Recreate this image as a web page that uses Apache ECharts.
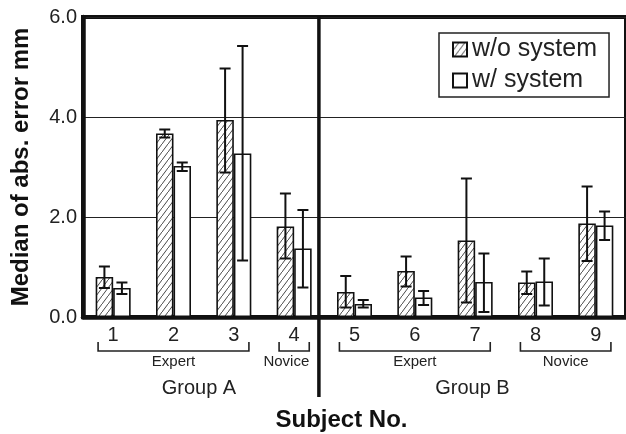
<!DOCTYPE html>
<html><head><meta charset="utf-8">
<script src="https://cdn.jsdelivr.net/npm/echarts@6/dist/echarts.min.js"></script>
<style>html,body{margin:0;padding:0;background:#fff}#c{width:626px;height:434px}</style>
</head><body><div id="c"></div>
<script>
const subjects = ['1','2','3','4','5','6','7','8','9'];
const woSystem = [0.80, 3.67, 3.94, 1.81, 0.50, 0.92, 1.53, 0.69, 1.87];
const woLow    = [0.58, 3.59, 2.89, 1.17, 0.19, 0.61, 0.29, 0.46, 1.12];
const woHigh   = [1.01, 3.75, 4.97, 2.47, 0.82, 1.21, 2.77, 0.91, 2.61];
const wSystem  = [0.58, 3.02, 3.27, 1.37, 0.26, 0.39, 0.70, 0.71, 1.83];
const wLow     = [0.46, 2.92, 1.13, 0.59, 0.19, 0.24, 0.10, 0.23, 1.54];
const wHigh    = [0.69, 3.09, 5.42, 2.14, 0.34, 0.52, 1.27, 1.17, 2.11];
const yMin = 0, yMax = 6, yStep = 2;
const bracketLabels = ['Expert', 'Novice', 'Expert', 'Novice'];
const bracketFrom = [0, 3, 4, 7];
const bracketTo = [2, 3, 6, 8];
const groupLabels = ['Group A', 'Group B'];
const seriesNames = ['w/o system', 'w/ system'];
const xTitle = 'Subject No.';
const yTitle = 'Median of abs. error mm';

const FONT = '"Liberation Sans", Arial, sans-serif';
const INK = '#111';
const BAR_W = 17.5;

// hatch pattern
const pc = document.createElement('canvas');
pc.width = 6; pc.height = 8;
const g = pc.getContext('2d');
g.fillStyle = '#fff'; g.fillRect(0, 0, 6, 8);
g.strokeStyle = '#333'; g.lineWidth = 0.9;
g.beginPath(); g.moveTo(-1, 8 + 8 / 6); g.lineTo(7, -8 / 6); g.stroke();
const hatch = { image: pc, repeat: 'repeat' };

function errSeries(low, high, side) {
  return {
    type: 'custom', silent: true, z: 5,
    encode: { x: 0, y: [1, 2] },
    data: low.map((l, i) => [i, l, high[i]]),
    renderItem(params, api) {
      const i = api.value(0);
      const p1 = api.coord([i, api.value(1)]);
      const p2 = api.coord([i, api.value(2)]);
      const x = p1[0] + side * BAR_W / 2;
      const c = 5.5;
      const st = { stroke: INK, lineWidth: 2 };
      return { type: 'group', children: [
        { type: 'line', shape: { x1: x, y1: p1[1], x2: x, y2: p2[1] }, style: st },
        { type: 'line', shape: { x1: x - c, y1: p1[1], x2: x + c, y2: p1[1] }, style: st },
        { type: 'line', shape: { x1: x - c, y1: p2[1], x2: x + c, y2: p2[1] }, style: st }
      ]};
    }
  };
}

const chart = echarts.init(document.getElementById('c'), null, { renderer: 'canvas' });
chart.setOption({
  backgroundColor: '#fff',
  animation: false,
  textStyle: { fontFamily: FONT },
  grid: { left: 83, right: 0, top: 17, bottom: 117, show: true, borderColor: INK, borderWidth: 4, backgroundColor: 'transparent' },
  legend: {
    data: [{ name: seriesNames[0], icon: 'rect' }, { name: seriesNames[1], icon: 'rect' }],
    orient: 'vertical', left: 439, top: 33, padding: [4, 12, 4, 13],
    itemGap: 6, itemWidth: 14, itemHeight: 14,
    borderColor: '#222', borderWidth: 1.5, backgroundColor: '#fff',
    textStyle: { fontSize: 25, color: '#222', fontFamily: FONT }
  },
  xAxis: {
    type: 'category', data: subjects,
    axisLine: { lineStyle: { color: INK, width: 4.5 } },
    axisTick: { show: false },
    axisLabel: { fontSize: 20, color: '#222', margin: 8, fontFamily: FONT },
    splitLine: { show: false }
  },
  yAxis: {
    type: 'value', min: yMin, max: yMax, interval: yStep,
    axisLine: { show: true, lineStyle: { color: INK, width: 4.5 } },
    axisTick: { show: false },
    axisLabel: { fontSize: 20, color: '#222', margin: 6, fontFamily: FONT, formatter: v => v.toFixed(1) },
    splitLine: { show: true, lineStyle: { color: '#222', width: 1.2 } },
    name: yTitle, nameLocation: 'middle', nameGap: 50, nameRotate: 90,
    nameTextStyle: { fontSize: 24, fontWeight: 'bold', color: '#111', fontFamily: FONT }
  },
  series: [
    { name: seriesNames[0], type: 'bar', data: woSystem, barWidth: BAR_W, barGap: '0%',
      itemStyle: { color: hatch, borderColor: INK, borderWidth: 1.6 } },
    { name: seriesNames[1], type: 'bar', data: wSystem, barWidth: BAR_W, barGap: '0%',
      itemStyle: { color: '#fff', borderColor: INK, borderWidth: 1.6 } },
    errSeries(woLow, woHigh, -1),
    errSeries(wLow, wHigh, 1)
  ]
});

// annotations computed from axis scales
const px = i => chart.convertToPixel({ xAxisIndex: 0 }, i);
const py = v => chart.convertToPixel({ yAxisIndex: 0 }, v);
const base = py(0), topY = py(yMax);
const band = px(1) - px(0);
const half = band * 0.25;
const divX = px(3) + 0.41 * (px(4) - px(3));
const els = [];
const bStyle = { stroke: '#222', lineWidth: 1.6, fill: null };
for (let k = 0; k < bracketLabels.length; k++) {
  const x1 = px(bracketFrom[k]) - half, x2 = px(bracketTo[k]) + half;
  els.push({ type: 'polyline', shape: { points: [[x1, base + 25], [x1, base + 34], [x2, base + 34], [x2, base + 25]] }, style: bStyle });
  let cx = (x1 + x2) / 2, align = 'center';
  if (x2 > divX - 12 && x1 < divX) { cx = x2; align = 'right'; }
  els.push({ type: 'text', x: cx, y: base + 45, style: { text: bracketLabels[k], fontSize: 15, fill: '#222', fontFamily: FONT, align: align, verticalAlign: 'middle' } });
}
const leftEdge = px(0) - band / 2, rightEdge = px(8) + band / 2;
els.push({ type: 'text', x: (leftEdge + divX) / 2 - 2, y: base + 71, style: { text: groupLabels[0], fontSize: 20, fill: '#222', fontFamily: FONT, align: 'center', verticalAlign: 'middle' } });
els.push({ type: 'text', x: (divX + rightEdge) / 2, y: base + 71, style: { text: groupLabels[1], fontSize: 20, fill: '#222', fontFamily: FONT, align: 'center', verticalAlign: 'middle' } });
els.push({ type: 'line', shape: { x1: divX, y1: topY, x2: divX, y2: base + 80 }, style: { stroke: INK, lineWidth: 3.5 }, z: 10 });
els.push({ type: 'text', x: (leftEdge + rightEdge) / 2 - 13, y: base + 103, style: { text: xTitle, fontSize: 24, fontWeight: 'bold', fill: '#111', fontFamily: FONT, align: 'center', verticalAlign: 'middle' } });
chart.setOption({ graphic: { elements: els } });
</script>
</body></html>
